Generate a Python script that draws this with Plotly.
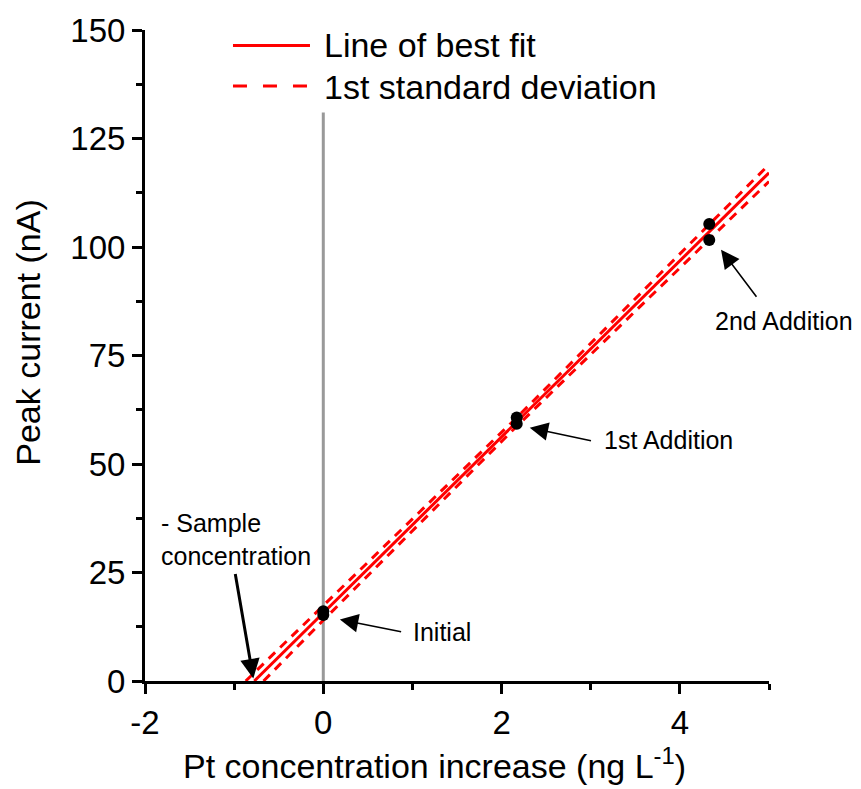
import plotly.graph_objects as go

# ---- data ----
conc = [0.0, 0.0, 2.17, 2.17, 4.33, 4.33]
current = [16.1, 15.2, 60.7, 59.3, 105.3, 101.6]

fit_x = [-0.774, 5.0]
fit_y = [0.0, 117.1]
sd_upper_x = [-0.87, 0.0, 2.17, 5.0]
sd_upper_y = [0.0, 17.4, 60.7, 119.0]
sd_lower_x = [-0.67, 0.0, 2.17, 5.0]
sd_lower_y = [0.0, 14.0, 58.7, 115.1]

zero_line_x = [0.0, 0.0]
zero_line_y = [0.0, 131.0]

x_ticks = [-2, 0, 2, 4]
y_ticks = [0, 25, 50, 75, 100, 125, 150]

# labels: (text, x, y)  and arrows: (tip_x, tip_y, tail_x, tail_y, width, size)
labels = [
    ("Initial", 0.98, 11.3),
    ("1st Addition", 3.13, 55.6),
    ("- Sample<br>concentration", -1.84, 32.7),
]
label_2nd = ("2nd Addition", 1.0237, 0.553)  # paper coords (outside plot area)
arrows = [
    (0.186, 14.15, 0.89, 11.3, 1.6, 2.3),
    (2.316, 58.36, 3.02, 55.3, 1.6, 2.3),
    (4.462, 99.36, 4.872, 88.2, 1.6, 2.3),
    (-0.785, 0.6, -0.99, 25.0, 3.0, 1.3),
]

FONT = "Arial, Liberation Sans, sans-serif"
RED = "#ff0000"

fig = go.Figure()
fig.add_trace(go.Scatter(x=zero_line_x, y=zero_line_y, mode="lines",
                         line=dict(color="#999999", width=3), showlegend=False))
fig.add_trace(go.Scatter(x=sd_upper_x, y=sd_upper_y, mode="lines",
                         line=dict(color=RED, width=3, dash="9px,7px"), showlegend=False))
fig.add_trace(go.Scatter(x=sd_lower_x, y=sd_lower_y, mode="lines",
                         line=dict(color=RED, width=3, dash="9px,7px"), showlegend=False))
fig.add_trace(go.Scatter(x=fit_x, y=fit_y, mode="lines",
                         line=dict(color=RED, width=3), showlegend=False))
fig.add_trace(go.Scatter(x=conc, y=current, mode="markers",
                         marker=dict(color="black", size=12), showlegend=False))

ann = []
for tipx, tipy, tailx, taily, w, s in arrows:
    ann.append(dict(x=tipx, y=tipy, ax=tailx, ay=taily, xref="x", yref="y",
                    axref="x", ayref="y", text="", showarrow=True, arrowhead=2,
                    arrowwidth=w, arrowsize=s, arrowcolor="black",
                    standoff=0, startstandoff=0))
for t, x, y in labels:
    ann.append(dict(x=x, y=y, xref="x", yref="y", text=t, showarrow=False,
                    xanchor="left", yanchor="middle", align="left",
                    font=dict(family=FONT, size=25, color="black")))
ann.append(dict(x=label_2nd[1], y=label_2nd[2], xref="paper", yref="paper", text=label_2nd[0],
                showarrow=False, xanchor="center", yanchor="middle",
                font=dict(family=FONT, size=25, color="black")))

# axis titles
ann.append(dict(x=-0.1875, y=0.535, xref="paper", yref="paper", text="Peak current (nA)",
                textangle=-90, showarrow=False, xanchor="center", yanchor="middle",
                font=dict(family=FONT, size=34, color="black")))
ann.append(dict(x=0.464, y=-0.127, xref="paper", yref="paper",
                text="Pt concentration increase (ng L<sup>-1</sup>)",
                showarrow=False, xanchor="center", yanchor="middle",
                font=dict(family=FONT, size=34, color="black")))

# legend
ann.append(dict(x=0.2837, y=0.977, xref="paper", yref="paper", text="Line of best fit",
                showarrow=False, xanchor="left", yanchor="middle",
                font=dict(family=FONT, size=34, color="black")))
ann.append(dict(x=0.2837, y=0.913, xref="paper", yref="paper", text="1st standard deviation",
                showarrow=False, xanchor="left", yanchor="middle",
                font=dict(family=FONT, size=34, color="black")))
shapes = [
    dict(type="line", xref="paper", yref="paper", x0=0.141, x1=0.2644, y0=0.976, y1=0.976,
         line=dict(color=RED, width=3)),
    dict(type="line", xref="paper", yref="paper", x0=0.141, x1=0.2644, y0=0.914, y1=0.914,
         line=dict(color=RED, width=3, dash="14px,16px")),
]

fig.update_layout(
    width=861, height=789,
    margin=dict(l=145, r=92, t=25, b=108),
    paper_bgcolor="white", plot_bgcolor="white",
    font=dict(family=FONT, size=33, color="black"),
    annotations=ann, shapes=shapes, showlegend=False,
    xaxis=dict(range=[-2, 5], tickmode="array", tickvals=x_ticks,
               ticktext=[str(v) for v in x_ticks],
               showline=True, linewidth=3, linecolor="black",
               ticks="outside", ticklen=10, tickwidth=3, tickcolor="black",
               showgrid=False, zeroline=False, tickfont=dict(size=33),
               minor=dict(ticks="outside", ticklen=6, tickwidth=3, tickcolor="black",
                          tickmode="array", tickvals=[-1, 1, 3, 5], showgrid=False)),
    yaxis=dict(range=[0, 150], tickmode="array", tickvals=y_ticks,
               ticktext=[str(v) for v in y_ticks],
               showline=True, linewidth=3, linecolor="black",
               ticks="outside", ticklen=10, tickwidth=3, tickcolor="black",
               showgrid=False, zeroline=False, tickfont=dict(size=33),
               minor=dict(ticks="outside", ticklen=6, tickwidth=3, tickcolor="black",
                          tickmode="array", tickvals=[12.5, 37.5, 62.5, 87.5, 112.5, 137.5],
                          showgrid=False)),
)

fig.write_html("out.html")
